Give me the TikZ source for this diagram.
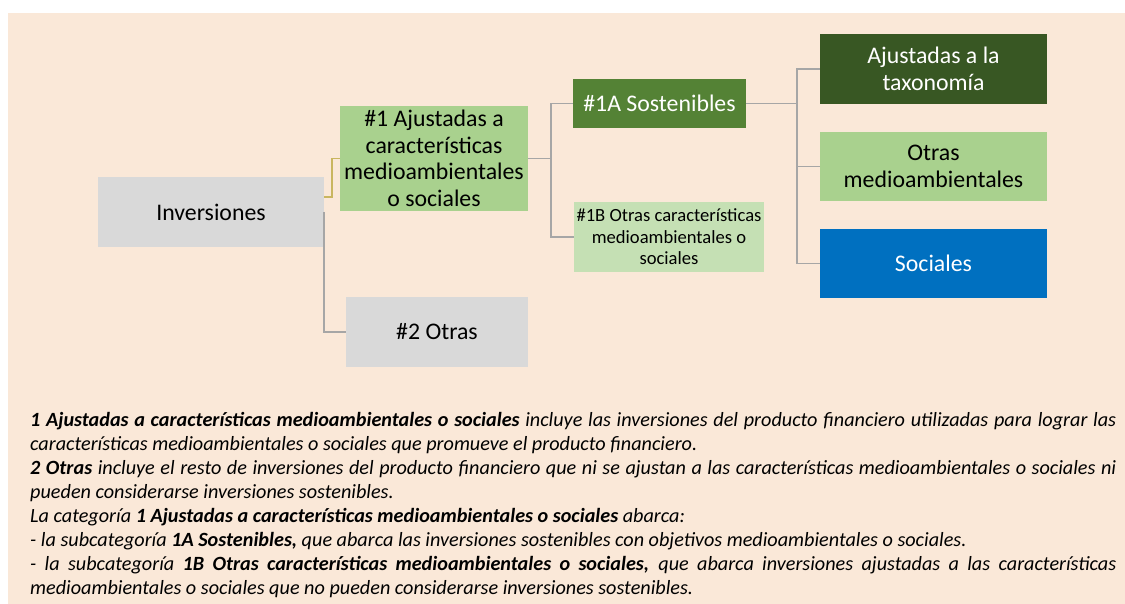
\documentclass[tikz,border=0pt]{standalone}
\usepackage{fontspec}
\setmainfont{Carlito}
\usepackage{xcolor}
\usepackage{tikz}
\usetikzlibrary{positioning,calc}
\definecolor{fondo}{HTML}{FAE8D8}
\definecolor{gris}{HTML}{D9D9D9}
\definecolor{verdeclaro}{HTML}{A9D18E}
\definecolor{verdemedio}{HTML}{548235}
\definecolor{verdepalido}{HTML}{C5E0B4}
\definecolor{verdeoscuro}{HTML}{385723}
\definecolor{azul}{HTML}{0070C0}
\definecolor{linea}{HTML}{A6A6A6}
\definecolor{oro}{HTML}{C9B660}
\tikzstyle{caja}= [rectangle, inner sep=0pt, align=center, font=\fontsize{23.8}{26.5}\selectfont]
\tikzstyle{con}= [draw=linea, line width=1.6pt]

\begin{document}
\begin{tikzpicture}[x=1pt, y=-1pt]
				\useasboundingbox (0,0) rectangle (1125,604);
				\fill[fondo] (8,13) rectangle (1125,604);
				
				\node[caja, fill=gris, minimum width=226, minimum height=70] (inv) at (211, 212) {Inversiones};
				\node[caja, fill=verdeclaro, minimum width=188, minimum height=105] (aj1) at (434, 158.5) {\#1 Ajustadas a\\caracter\'isticas\\medioambientales\\o sociales};
				\node[caja, fill=gris, minimum width=182, minimum height=70] (otr) at (437, 332) {\#2 Otras};
				\node[caja, fill=verdemedio, text=white, minimum width=173, minimum height=49] (sost) at (659.5, 103.5) {\#1A Sostenibles};
				\node[caja, fill=verdepalido, minimum width=190, minimum height=70, font=\fontsize{18.6}{21.5}\selectfont] (otc) at (669, 237) {\#1B Otras caracter\'isticas\\medioambientales o\\sociales};
				\node[caja, fill=verdeoscuro, text=white, minimum width=227, minimum height=70] (tax) at (933.5, 69) {Ajustadas a la\\taxonom\'ia};
				\node[caja, fill=verdeclaro, minimum width=227, minimum height=69] (otm) at (933.5, 166.5) {Otras\\medioambientales};
				\node[caja, fill=azul, text=white, minimum width=227, minimum height=69] (soc) at (933.5, 263.5) {Sociales};
				
				\coordinate (j1) at ($(aj1.east)+(23,0)$);
				\coordinate (j2) at ($(sost.east)+(51,0)$);
				
				\draw[con, draw=oro] ([yshift=15pt]inv.east) -- ++(8,0) |- (aj1.west);
				\draw[con] (inv.east) |- (otr.west);
				\draw[con] (aj1.east) -- (j1) |- (sost.west);
				\draw[con] (j1) |- (otc.west);
				\draw[con] (sost.east) -- (j2);
				\draw[con] (j2) |- (tax.west);
				\draw[con] (j2) |- (otm.west);
				\draw[con] (j2) |- (soc.west);
				
				\node[anchor=north west, inner sep=0pt, text width=1086pt, align=justify, font=\fontsize{20.2}{24}\selectfont\itshape] (nota) at (30, 412) {\setlength{\parindent}{0pt}\hyphenpenalty=10000\exhyphenpenalty=10000\emergencystretch=3em
				\textbf{1 Ajustadas a caracter\'isticas medioambientales o sociales} incluye las inversiones del producto financiero utilizadas para lograr las\linebreak caracter\'isticas medioambientales o sociales que promueve el producto financiero.\par
				\textbf{2 Otras} incluye el resto de inversiones del producto financiero que ni se ajustan a las caracter\'isticas medioambientales o sociales ni\linebreak pueden considerarse inversiones sostenibles.\par
				La categor\'ia \textbf{1 Ajustadas a caracter\'isticas medioambientales o sociales} abarca:\par
				- la subcategor\'ia \textbf{1A Sostenibles,} que abarca las inversiones sostenibles con objetivos medioambientales o sociales.\par
				- la subcategor\'ia \textbf{1B Otras caracter\'isticas medioambientales o sociales,} que abarca inversiones ajustadas a las caracter\'isticas\linebreak medioambientales o sociales que no pueden considerarse inversiones sostenibles.};
			\end{tikzpicture}
\end{document}
